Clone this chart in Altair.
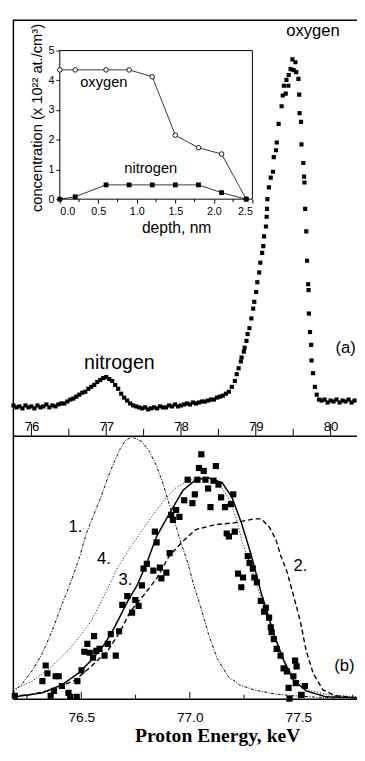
import altair as alt
import pandas as pd

FONT = "Liberation Sans"
SERIF = "Liberation Serif"

# ---------------- panel (a): full spectrum ----------------
base_energy = [75.76, 75.80, 75.84, 75.88, 75.92, 75.96, 76.00, 76.04, 76.08, 76.12,
               76.16, 76.20, 76.24, 76.28, 76.32, 76.36, 76.40, 76.44, 76.48, 76.52,
               76.56, 76.60, 76.64, 76.68, 76.72, 76.76, 76.80, 76.84, 76.88, 76.92,
               76.96, 77.00, 77.04, 77.08, 77.12, 77.16, 77.20, 77.24, 77.28, 77.32,
               77.36, 77.40, 77.44, 77.48, 77.52, 77.56, 77.60, 77.64, 77.68, 77.72,
               77.76, 77.80, 77.84, 77.88, 77.92, 77.96, 78.00, 78.04, 78.08, 78.12,
               78.16, 78.20, 78.24, 78.28, 78.32, 78.36, 78.40, 78.44, 78.48, 78.52,
               78.56, 78.60, 78.64, 78.68]
base_counts = [31, 29, 30, 28, 31, 29, 30, 28, 31, 29,
               30, 32, 29, 31, 30, 32, 33, 33, 35, 37,
               38, 40, 42, 44, 45, 48, 50, 52, 55, 57,
               59, 60, 58, 56, 52, 48, 43, 39, 36, 33,
               31, 30, 29, 28, 29, 27, 28, 29, 28, 30,
               29, 29, 31, 30, 32, 30, 31, 32, 33, 32,
               34, 33, 34, 35, 35, 36, 37, 37, 39, 40,
               41, 43, 45, 50]
edge_energy = [78.72, 78.745, 78.77, 78.80, 78.81, 78.84, 78.85, 78.875, 78.89, 78.915,
               78.94, 78.965, 78.98, 79.005, 79.02, 79.045, 79.06, 79.085, 79.10, 79.11,
               79.135, 79.145, 79.15, 79.155, 79.175, 79.20, 79.23, 79.24, 79.27, 79.28,
               79.305, 79.345, 79.36, 79.375, 79.40, 79.41, 79.44, 79.435, 79.465, 79.49,
               79.505, 79.53, 79.54, 79.57, 79.58, 79.585, 79.605, 79.61, 79.635, 79.645,
               79.65, 79.66, 79.675, 79.685, 79.70, 79.705, 79.71, 79.725, 79.74, 79.745,
               79.765, 79.79, 79.815, 79.845, 79.88, 79.92, 79.96, 80.00, 80.04, 80.08,
               80.12, 80.16, 80.20, 80.24, 80.28, 80.32]
edge_counts = [56, 63, 69, 76, 80, 86, 90, 97, 104, 110,
               120, 130, 137, 147, 157, 167, 177, 187, 194, 204,
               214, 224, 232, 242, 254, 264, 270, 285, 292, 300,
               319, 337, 348, 358, 350, 364, 369, 358, 375, 385,
               374, 382, 372, 365, 349, 330, 321, 298, 279, 265,
               259, 232, 209, 179, 155, 149, 125, 106, 93, 77,
               64, 50, 42, 37, 36, 37, 34, 36, 35, 37,
               34, 36, 35, 37, 34, 36]

a_ticks_major = [76, 77, 78, 79, 80]
a_ticks_minor = [76.5, 77.5, 78.5, 79.5]
a_label_text = ["oxygen", "nitrogen", "(a)"]
a_label_energy = [79.765, 77.176, 80.20]
a_label_counts = [414, 74, 90]
a_label_size = [17, 20, 17]

# ---------------- inset: depth profile ----------------
depth = [0.0, 0.2, 0.6, 0.9, 1.2, 1.5, 1.8, 2.1, 2.42]
oxygen_conc = [4.35, 4.35, 4.35, 4.35, 4.12, 2.15, 1.73, 1.52, 0.0]
nitrogen_conc = [0.0, 0.08, 0.48, 0.48, 0.48, 0.48, 0.48, 0.22, 0.0]
inset_depth_ticks = [0.0, 0.5, 1.0, 1.5, 2.0, 2.5]
inset_depth_minor = [0.25, 0.75, 1.25, 1.75, 2.25]
inset_conc_ticks = [0, 1, 2, 3, 4, 5]
inset_label_text = ["oxygen", "nitrogen"]
inset_label_depth = [0.571, 1.18]
inset_label_conc = [3.95, 1.05]

# ---------------- panel (b): nitrogen peak ----------------
b_energy = [76.194, 76.321, 76.336, 76.344, 76.359, 76.374, 76.382, 76.396, 76.411, 76.441,
            76.449, 76.479, 76.482, 76.501, 76.514, 76.528, 76.539, 76.554, 76.559, 76.569,
            76.584, 76.607, 76.622, 76.636, 76.659, 76.674, 76.689, 76.712, 76.734, 76.749,
            76.764, 76.779, 76.787, 76.802, 76.832, 76.839, 76.847, 76.862, 76.869, 76.892,
            76.907, 76.914, 76.922, 76.937, 76.952, 76.974, 76.990, 77.012, 77.023, 77.035,
            77.042, 77.053, 77.064, 77.072, 77.084, 77.095, 77.109, 77.120, 77.132, 77.144,
            77.162, 77.170, 77.180, 77.189, 77.200, 77.207, 77.222, 77.237, 77.245, 77.267,
            77.275, 77.290, 77.297, 77.309, 77.327, 77.342, 77.350, 77.365, 77.373, 77.377,
            77.387, 77.400, 77.418, 77.432, 77.447, 77.485, 77.492, 77.477, 77.455, 77.488,
            77.515, 77.530, 77.459]
b_counts = [3, 18, 34, 26, 3, 8, 23, 23, 13, 6,
            2, 2, 18, 29, 48, 56, 47, 42, 64, 49,
            51, 44, 56, 66, 44, 69, 96, 105, 88, 101,
            95, 116, 133, 138, 131, 171, 160, 134, 123, 129,
            149, 188, 183, 193, 186, 203, 224, 200, 209, 224,
            236, 250, 233, 224, 215, 196, 223, 238, 219, 206,
            196, 169, 166, 199, 209, 171, 128, 114, 124, 146,
            139, 133, 124, 119, 100, 89, 93, 83, 73, 68,
            61, 51, 44, 31, 28, 39, 33, 23, 11, 16,
            4, 13, 0]

c1_energy = [76.185, 76.230, 76.275, 76.320, 76.365, 76.410, 76.450, 76.494, 76.523, 76.554,
             76.590, 76.622, 76.653, 76.680, 76.703, 76.734, 76.779, 76.811, 76.847, 76.878,
             76.905, 76.937, 76.964, 76.991, 77.018, 77.050, 77.086, 77.126, 77.176, 77.230,
             77.297, 77.387, 77.477, 77.626, 77.770]
c1_counts = [6, 16, 29, 46, 69, 96, 118, 146, 169, 186,
             206, 226, 243, 256, 264, 268, 263, 254, 238, 219,
             199, 176, 156, 139, 116, 94, 66, 41, 23, 14,
             9, 5, 3, 1, 1]
c2_energy = [76.185, 76.261, 76.365, 76.473, 76.545, 76.622, 76.680, 76.725, 76.788, 76.847,
             76.905, 76.968, 77.027, 77.117, 77.207, 77.297, 77.329, 77.365, 77.396, 77.419,
             77.446, 77.477, 77.509, 77.536, 77.568, 77.613, 77.671, 77.770]
c2_counts = [3, 4, 9, 19, 33, 49, 69, 89, 106, 123,
             146, 161, 173, 178, 180, 184, 184, 176, 163, 146,
             131, 106, 79, 49, 26, 9, 3, 1]
c3_energy = [76.185, 76.230, 76.320, 76.410, 76.486, 76.545, 76.608, 76.653, 76.712, 76.757,
             76.802, 76.847, 76.905, 76.968, 77.027, 77.086, 77.149, 77.194, 77.239, 77.284,
             77.329, 77.360, 77.387, 77.432, 77.477, 77.536, 77.626, 77.770]
c3_counts = [2, 3, 6, 14, 26, 39, 56, 73, 99, 116,
             139, 166, 189, 213, 224, 226, 221, 206, 179, 146,
             108, 86, 66, 39, 19, 8, 2, 1]
c4_energy = [76.185, 76.275, 76.365, 76.455, 76.545, 76.622, 76.667, 76.712, 76.770, 76.833,
             76.892, 76.937, 76.991, 77.041, 77.086, 77.131, 77.185, 77.216, 77.243, 77.275,
             77.306, 77.342, 77.383, 77.428, 77.477, 77.545, 77.635, 77.770]
c4_counts = [9, 18, 33, 53, 79, 113, 134, 150, 169, 189,
             206, 216, 223, 226, 225, 221, 203, 183, 159, 139,
             118, 94, 68, 43, 22, 9, 4, 2]

b_ticks_major = [76.5, 77.0, 77.5]
b_ticks_minor = [76.25, 76.75, 77.25, 77.75]
b_label_text = ["1.", "4.", "3.", "2.", "(b)"]
b_label_energy = [76.473, 76.604, 76.703, 77.509, 77.712]
b_label_counts = [176, 143, 121, 136, 33]

# ---------------- layout (one plot area = whole page content) ----------------
TW, TH = 357, 745          # drawing area (page minus 8px margins)
L, R = 5, 357              # panel left / right edge in drawing coords
A_TOP, A_BOT = 4, 429      # panel (a) vertical extent
B_TOP, B_BOT = 429, 698    # panel (b) vertical extent
I_L, I_R, I_T, I_B = 53, 250, 35, 187   # inset box

xa = alt.Scale(domain=[75.752, 80.353], range=[L, R], nice=False, zero=False)
ya = alt.Scale(domain=[0, 425], range=[A_BOT, A_TOP], nice=False, zero=False)
xa_axis = alt.Axis(orient="bottom", offset=A_BOT - TH, values=a_ticks_major, format="d",
                   title=None, grid=False, tickSize=0, labelPadding=-16, labelBaseline="top",
                   labelFontSize=13.5, labelFont=FONT, labelColor="black",
                   domainColor="black", domainWidth=1.5)
ya_axis = alt.Axis(orient="left", offset=-L, labels=False, ticks=False, title=None, grid=False,
                   domainColor="black", domainWidth=1.5)


def XA():
    return alt.X("E:Q", scale=xa, axis=xa_axis)


def YA():
    return alt.Y("c:Q", scale=ya, axis=ya_axis)


spec_df = pd.DataFrame({"E": base_energy + edge_energy, "c": base_counts + edge_counts})
a_points = alt.Chart(spec_df).mark_square(size=18, color="black", opacity=1, clip=True).encode(
    x=XA(), y=YA())
a_major = alt.Chart(pd.DataFrame({"E": a_ticks_major})).mark_rule(
    color="black", strokeWidth=1).encode(x=XA(), y=alt.value(A_BOT - 12), y2=alt.value(A_BOT))
a_minor = alt.Chart(pd.DataFrame({"E": a_ticks_minor})).mark_rule(
    color="black", strokeWidth=1).encode(x=XA(), y=alt.value(A_BOT - 7), y2=alt.value(A_BOT))
a_top = alt.Chart(pd.DataFrame({"E": [0]})).mark_rule(color="black", strokeWidth=1.5).encode(
    x=alt.value(L), x2=alt.value(R), y=alt.value(A_TOP))
a_lab_df = pd.DataFrame({"E": a_label_energy, "c": a_label_counts, "t": a_label_text,
                         "fs": a_label_size})
a_labels = alt.Chart(a_lab_df).mark_text(font=FONT, color="black", align="center",
                                         baseline="middle", clip=True).encode(
    x=XA(), y=YA(), text="t:N", size=alt.Size("fs:Q", scale=None, legend=None))
group_a = alt.layer(a_points, a_major, a_minor, a_top, a_labels)

xd = alt.Scale(domain=[0, 2.5], range=[I_L, I_R], nice=False, zero=False)
yd = alt.Scale(domain=[0, 5], range=[I_B, I_T], nice=False, zero=False)
xd_axis = alt.Axis(orient="bottom", offset=I_B - TH, values=inset_depth_ticks, format=".1f",
                   grid=False, domain=False, tickSize=4, tickColor="black", labelPadding=3,
                   labelFontSize=11, labelFont=FONT, labelColor="black",
                   title="depth, nm", titleFont=FONT, titleFontSize=16, titleFontWeight="normal",
                   titleColor="black", titleX=172, titleY=34, titleAlign="center",
                   titleBaseline="alphabetic")
yd_axis = alt.Axis(orient="left", offset=-I_L, values=inset_conc_ticks, format="d",
                   grid=False, domain=False, tickSize=4, tickColor="black", labelPadding=2,
                   labelFontSize=11, labelFont=FONT, labelColor="black",
                   title="concentration (x 10²² at./cm³)", titleFont=FONT, titleFontSize=15,
                   titleFontWeight="normal", titleColor="black", titleX=-24, titleY=103.5,
                   titleAngle=270, titleAlign="center", titleBaseline="middle")


def XD():
    return alt.X("d:Q", scale=xd, axis=xd_axis)


def YD():
    return alt.Y("conc:Q", scale=yd, axis=yd_axis)


frame = alt.Chart(pd.DataFrame({"d": [0.0], "d2": [2.5], "conc": [0.0], "conc2": [5.0]})).mark_rect(
    fillOpacity=0, stroke="black", strokeWidth=1).encode(
    x=XD(), x2=alt.X2("d2:Q"), y=YD(), y2=alt.Y2("conc2:Q"))
ox_df = pd.DataFrame({"d": depth, "conc": oxygen_conc})
ni_df = pd.DataFrame({"d": depth, "conc": nitrogen_conc})
ox_line = alt.Chart(ox_df).mark_line(color="black", strokeWidth=0.8).encode(x=XD(), y=YD())
ni_line = alt.Chart(ni_df).mark_line(color="black", strokeWidth=0.8).encode(x=XD(), y=YD())
ox_pts = alt.Chart(ox_df).mark_point(shape="circle", size=22, filled=True, fill="white",
                                     stroke="black", strokeWidth=0.9, opacity=1).encode(
    x=XD(), y=YD())
ni_pts = alt.Chart(ni_df).mark_square(size=24, color="black", opacity=1).encode(x=XD(), y=YD())
in_minor = alt.Chart(pd.DataFrame({"d": inset_depth_minor})).mark_rule(
    color="black", strokeWidth=1).encode(x=XD(), y=alt.value(I_B), y2=alt.value(I_B + 3))
in_lab_df = pd.DataFrame({"d": inset_label_depth, "conc": inset_label_conc,
                          "t": inset_label_text})
in_labels = alt.Chart(in_lab_df).mark_text(font=FONT, fontSize=15, color="black",
                                           align="center", baseline="middle").encode(
    x=XD(), y=YD(), text="t:N")
group_inset = alt.layer(frame, in_minor, ox_line, ni_line, ox_pts, ni_pts, in_labels)

xb = alt.Scale(domain=[76.185, 77.77], range=[L, R], nice=False, zero=False)
yb = alt.Scale(domain=[0, 269], range=[B_BOT, B_TOP], nice=False, zero=False)
xb_axis = alt.Axis(orient="bottom", offset=B_BOT - TH, values=b_ticks_major, format=".1f",
                   grid=False, tickSize=0, labelPadding=12, labelBaseline="top",
                   labelFontSize=14, labelFont=FONT, labelColor="black",
                   domainColor="black", domainWidth=1.5,
                   title="Proton Energy, keV", titleFont=SERIF, titleFontSize=20,
                   titleFontWeight="bold", titleColor="black", titleX=214, titleY=44,
                   titleAlign="center", titleBaseline="alphabetic")
yb_axis = alt.Axis(orient="left", offset=-L, labels=False, ticks=False, title=None, grid=False,
                   domainColor="black", domainWidth=1.5)


def XB():
    return alt.X("E:Q", scale=xb, axis=xb_axis)


def YB():
    return alt.Y("c:Q", scale=yb, axis=yb_axis)


b_pts = alt.Chart(pd.DataFrame({"E": b_energy, "c": b_counts})).mark_square(
    size=40, color="black", opacity=1, clip=True).encode(x=XB(), y=YB())


def curve(e, v, dash, width):
    return alt.Chart(pd.DataFrame({"E": e, "c": v})).mark_line(
        color="black", strokeWidth=width, strokeDash=dash, clip=True).encode(x=XB(), y=YB())


b_c1 = curve(c1_energy, c1_counts, [3, 1.5, 1, 1.5], 1.0)
b_c2 = curve(c2_energy, c2_counts, [5, 3], 1.4)
b_c3 = curve(c3_energy, c3_counts, [1, 0], 1.5)
b_c4 = curve(c4_energy, c4_counts, [1, 2], 1.0)
b_major = alt.Chart(pd.DataFrame({"E": b_ticks_major})).mark_rule(
    color="black", strokeWidth=1).encode(x=XB(), y=alt.value(B_BOT - 7), y2=alt.value(B_BOT))
b_minor = alt.Chart(pd.DataFrame({"E": b_ticks_minor})).mark_rule(
    color="black", strokeWidth=1, clip=True).encode(x=XB(), y=alt.value(B_BOT - 4), y2=alt.value(B_BOT))
b_lab_df = pd.DataFrame({"E": b_label_energy, "c": b_label_counts, "t": b_label_text})
b_labels = alt.Chart(b_lab_df).mark_text(font=FONT, fontSize=17, color="black", align="center",
                                         baseline="middle", clip=True).encode(
    x=XB(), y=YB(), text="t:N")
group_b = alt.layer(b_c1, b_c4, b_c2, b_c3, b_pts, b_major, b_minor, b_labels)

chart = alt.layer(group_a, group_inset, group_b).resolve_scale(
    x="independent", y="independent"
).properties(
    width=TW, height=TH,
    autosize=alt.AutoSizeParams(type="none"),
    padding=0,
    background="white",
).configure_view(stroke="transparent")

chart.save("out.html", embed_options={"renderer": "svg", "actions": False})
